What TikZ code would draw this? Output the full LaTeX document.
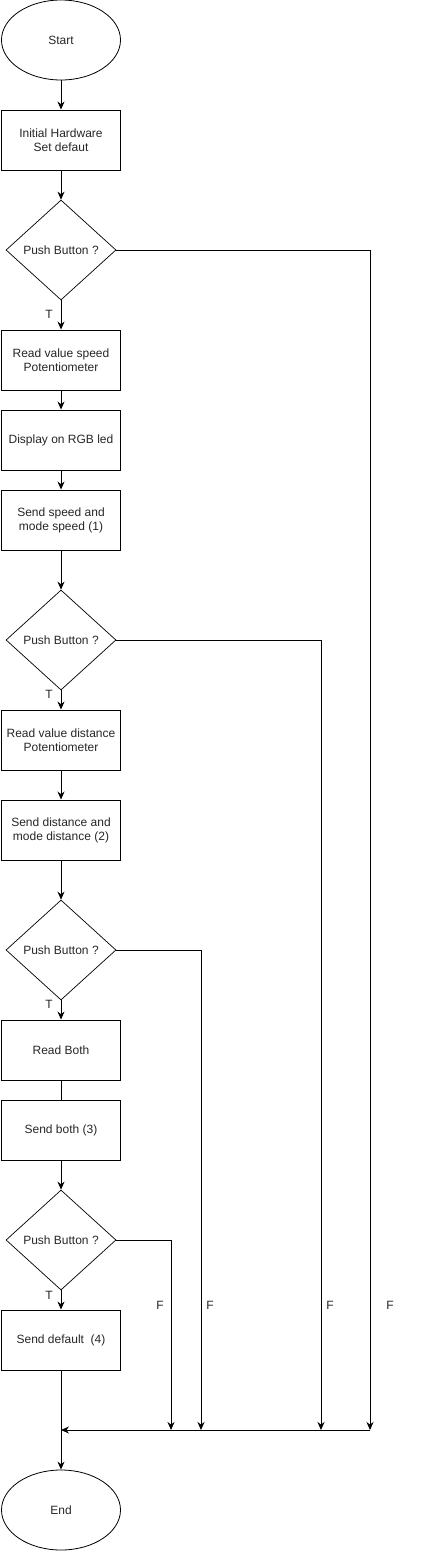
\documentclass[tikz,border=0pt]{standalone}
\usepackage{fontspec}
\setmainfont{Liberation Sans}
\usetikzlibrary{shapes.geometric,arrows.meta}
\begin{document}
\begin{tikzpicture}[x=1pt,y=-1pt,
  every node/.style={font=\fontsize{12}{14}\selectfont, text=black!85},
  proc/.style={draw, line width=0.9pt, rectangle, minimum width=119pt, minimum height=60pt, inner sep=0pt, align=center},
  term/.style={draw, line width=0.8pt, ellipse, minimum width=119pt, minimum height=80pt, inner sep=0pt},
  dec/.style={draw, line width=0.7pt, diamond, minimum width=110pt, minimum height=100pt, inner sep=0pt, aspect=1.1},
  arr/.style={line width=0.9pt, -{Stealth[length=8pt,width=7pt]}},
  ln/.style={line width=0.9pt},
  lbl/.style={font=\fontsize{12}{14}\selectfont, inner sep=0pt}]
\useasboundingbox (0,0) rectangle (421,1551);
\node[term] (start) at (61,40) {Start};
\node[proc] (b1) at (61,140) {Initial Hardware\\Set defaut};
\node[dec] (d1) at (61,250) {Push Button ?};
\node[proc] (b2) at (61,360) {Read value speed\\Potentiometer};
\node[proc] (b3) at (61,440) {Display on RGB led};
\node[proc] (b4) at (61,520) {Send speed and\\mode speed (1)};
\node[dec] (d2) at (61,640) {Push Button ?};
\node[proc] (b5) at (61,740) {Read value distance\\Potentiometer};
\node[proc] (b6) at (61,830) {Send distance and\\mode distance (2)};
\node[dec] (d3) at (61,950) {Push Button ?};
\node[proc] (b7) at (61,1050) {Read Both};
\node[proc] (b8) at (61,1130) {Send both (3)};
\node[dec] (d4) at (61,1240) {Push Button ?};
\node[proc] (b9) at (61,1340) {Send default\ \ (4)};
\node[term] (end) at (61,1510) {End};

\coordinate (j1) at (370,1430);
\coordinate (j2) at (321,1430);
\coordinate (j3) at (201,1430);
\coordinate (j4) at (171,1430);
\coordinate (jE) at (61,1430);

\draw[arr] (start) -- (b1);
\draw[arr] (b1) -- (d1);
\draw[arr] (d1) -- (b2);
\draw[arr] (b2) -- (b3);
\draw[arr] (b3) -- (b4);
\draw[arr] (b4) -- (d2);
\draw[arr] (d2) -- (b5);
\draw[arr] (b5) -- (b6);
\draw[arr] (b6) -- (d3);
\draw[arr] (d3) -- (b7);
\draw[ln] (b7) -- (b8);
\draw[arr] (b8) -- (d4);
\draw[arr] (d4) -- (b9);
\draw[arr] (b9) -- (end);

\draw[arr] (d1.east) -| (j1);
\draw[arr] (d2.east) -| (j2);
\draw[arr] (d3.east) -| (j3);
\draw[arr] (d4.east) -| (j4);
\draw[arr] (j1) -- (jE);

\node[lbl] (t1) at (49,314) {T};
\node[lbl] (t2) at (49,694) {T};
\node[lbl] (t3) at (49,1004) {T};
\node[lbl] (t4) at (49,1295) {T};
\node[lbl] (f4) at (160,1305) {F};
\node[lbl] (f3) at (210,1305) {F};
\node[lbl] (f2) at (330,1305) {F};
\node[lbl] (f1) at (390,1305) {F};
\end{tikzpicture}
\end{document}
